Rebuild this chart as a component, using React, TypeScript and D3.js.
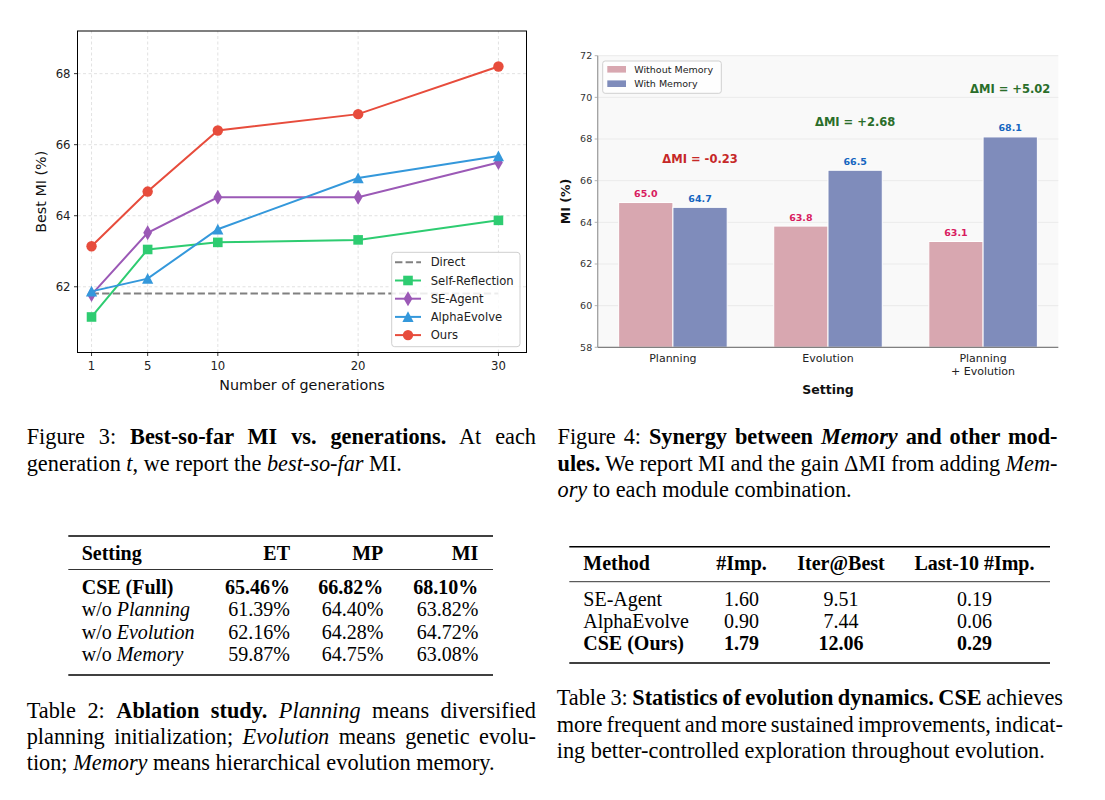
import React, { useLayoutEffect, useRef } from 'react';
import * as d3 from 'd3';

// Figure 3: best-so-far MI per generation
const generations = [1, 5, 10, 20, 30];
const directMI = [61.81, 61.81, 61.81, 61.81, 61.81];
const selfReflectionMI = [61.15, 63.05, 63.25, 63.32, 63.87];
const seAgentMI = [61.78, 63.52, 64.52, 64.52, 65.5];
const alphaEvolveMI = [61.87, 62.23, 63.62, 65.06, 65.68];
const oursMI = [63.14, 64.68, 66.4, 66.86, 68.2];
const lineYTicks = [62, 64, 66, 68];

// Figure 4: memory synergy
const settings = [['Planning'], ['Evolution'], ['Planning', '+ Evolution']];
const withoutMemory = [64.95, 63.82, 63.08];
const withMemory = [64.72, 66.5, 68.1];
const barYTicks = [58, 60, 62, 64, 66, 68, 70, 72];

// Table 2: ablation
const ablationSettings = ['CSE (Full)', 'w/o Planning', 'w/o Evolution', 'w/o Memory'];
const ablationET = [65.46, 61.39, 62.16, 59.87];
const ablationMP = [66.82, 64.4, 64.28, 64.75];
const ablationMI = [68.1, 63.82, 64.72, 63.08];

// Table 3: evolution dynamics
const dynMethods = ['SE-Agent', 'AlphaEvolve', 'CSE (Ours)'];
const dynImp = [1.6, 0.9, 1.79];
const dynIterBest = [9.51, 7.44, 12.06];
const dynLast10 = [0.19, 0.06, 0.29];

const SANS = '"DejaVu Sans", Verdana, sans-serif';
const SERIF = '"Liberation Serif", "Times New Roman", serif';

type Marker = 'square' | 'diamond' | 'triangle' | 'circle' | null;

const markerPath = (m: Marker) => {
  if (m === 'circle') return d3.symbol(d3.symbolCircle, Math.PI * 5.2 * 5.2)() as string;
  if (m === 'square') return d3.symbol(d3.symbolSquare, 9.6 * 9.6)() as string;
  if (m === 'triangle') return 'M0,-5.6L5.6,5.2L-5.6,5.2Z';
  if (m === 'diamond') return 'M0,-7.5L4.4,0L0,7.5L-4.4,0Z';
  return '';
};

const GenerationsChart = () => {
  const x = d3.scaleLinear().domain([0, 32]).range([77.5, 526.5]);
  const y = d3.scaleLinear().domain([60.15, 69.2]).range([352.5, 31]);
  const [xl, xr] = x.range();
  const [yb, yt] = y.range();
  const line = d3
    .line<number>()
    .x((_, i) => x(generations[i]))
    .y((v) => y(v));

  const series: { name: string; values: number[]; color: string; marker: Marker; dashed?: boolean }[] = [
    { name: 'Direct', values: directMI, color: '#808080', marker: null, dashed: true },
    { name: 'Self-Reflection', values: selfReflectionMI, color: '#2ecc71', marker: 'square' },
    { name: 'SE-Agent', values: seAgentMI, color: '#9b59b6', marker: 'diamond' },
    { name: 'AlphaEvolve', values: alphaEvolveMI, color: '#3498db', marker: 'triangle' },
    { name: 'Ours', values: oursMI, color: '#e74c3c', marker: 'circle' },
  ];

  const legendX = 391.7;
  const legendY = 252.3;

  return (
    <g fontFamily={SANS}>
      {/* grid */}
      {generations.map((g) => (
        <line key={'gx' + g} x1={x(g)} x2={x(g)} y1={yb} y2={yt} stroke="#dadada" strokeWidth={0.8} strokeDasharray="3,2.5" />
      ))}
      {lineYTicks.map((t) => (
        <line key={'gy' + t} x1={xl} x2={xr} y1={y(t)} y2={y(t)} stroke="#dadada" strokeWidth={0.8} strokeDasharray="3,2.5" />
      ))}

      {series.map((s) => (
        <g key={s.name}>
          <path
            d={line(s.values) as string}
            fill="none"
            stroke={s.color}
            strokeWidth={2}
            strokeDasharray={s.dashed ? '7.4,3.2' : undefined}
          />
          {s.marker &&
            s.values.map((v, i) => (
              <path key={i} transform={`translate(${x(generations[i])},${y(v)})`} d={markerPath(s.marker)} fill={s.color} />
            ))}
        </g>
      ))}

      <rect x={xl} y={yt} width={xr - xl} height={yb - yt} fill="none" stroke="#000" strokeWidth={1} />

      {/* x axis */}
      {generations.map((g) => (
        <g key={'tx' + g}>
          <line x1={x(g)} x2={x(g)} y1={yb} y2={yb + 3.5} stroke="#000" strokeWidth={0.8} />
          <text x={x(g)} y={yb + 17} textAnchor="middle" fontSize={11.7} fill="#222">
            {g}
          </text>
        </g>
      ))}
      {/* y axis */}
      {lineYTicks.map((t) => (
        <g key={'ty' + t}>
          <line x1={xl - 3.5} x2={xl} y1={y(t)} y2={y(t)} stroke="#000" strokeWidth={0.8} />
          <text x={xl - 7} y={y(t)} dy="0.35em" textAnchor="end" fontSize={11.7} fill="#222">
            {t}
          </text>
        </g>
      ))}
      <text x={302} y={389.5} textAnchor="middle" fontSize={14.3} fill="#111">
        Number of generations
      </text>
      <text transform={`translate(45.5,${(yb + yt) / 2}) rotate(-90)`} textAnchor="middle" fontSize={14.3} fill="#111">
        Best MI (%)
      </text>

      {/* legend */}
      <rect x={legendX} y={legendY} width={128.3} height={94.4} rx={3} fill="#fff" fillOpacity={0.85} stroke="#cfcfcf" strokeWidth={1} />
      {series.map((s, i) => {
        const ry = legendY + 10 + i * 18.2;
        return (
          <g key={'lg' + s.name}>
            <line x1={395} x2={421} y1={ry} y2={ry} stroke={s.color} strokeWidth={2} strokeDasharray={s.dashed ? '7.4,3.2' : undefined} />
            {s.marker && <path transform={`translate(408,${ry})`} d={markerPath(s.marker)} fill={s.color} />}
            <text x={430.7} y={ry} dy="0.35em" fontSize={11.6} fill="#222">
              {s.name}
            </text>
          </g>
        );
      })}
    </g>
  );
};

const MemoryChart = () => {
  const x = d3.scaleLinear().domain([-0.485, 2.485]).range([597.7, 1058.3]);
  const y = d3.scaleLinear().domain([58, 72]).range([347.3, 55.7]);
  const [xl, xr] = x.range();
  const [yb, yt] = y.range();
  const bw = 0.35;
  const colWithout = '#d8a7b0';
  const colWith = '#7f8cbb';
  const fmt1 = (v: number) => (Math.round(v * 10 + 1e-9) / 10).toFixed(1);
  const fmtDelta = (d: number) => (d >= 0 ? '+' : '') + d.toFixed(2);

  return (
    <g fontFamily={SANS}>
      <rect x={xl} y={yt} width={xr - xl} height={yb - yt} fill="#f9f9f9" />
      {barYTicks.map((t) => (
        <line key={'g' + t} x1={xl} x2={xr} y1={y(t)} y2={y(t)} stroke="#ebebeb" strokeWidth={1} />
      ))}

      {settings.map((_, i) => (
        <g key={'b' + i}>
          <rect x={x(i - bw)} y={y(withoutMemory[i])} width={x(bw) - x(0)} height={yb - y(withoutMemory[i])} fill={colWithout} stroke="#fff" strokeWidth={1} />
          <rect x={x(i)} y={y(withMemory[i])} width={x(bw) - x(0)} height={yb - y(withMemory[i])} fill={colWith} stroke="#fff" strokeWidth={1} />
          <text x={x(i - bw / 2)} y={y(withoutMemory[i]) - 5.5} textAnchor="middle" fontSize={9.5} fontWeight="bold" fill="#d81b60">
            {fmt1(withoutMemory[i])}
          </text>
          <text x={x(i + bw / 2)} y={y(withMemory[i]) - 5.5} textAnchor="middle" fontSize={9.5} fontWeight="bold" fill="#1565c0">
            {fmt1(withMemory[i])}
          </text>
          <text
            x={x(i + bw / 2)}
            y={y(withMemory[i] + 2.3)}
            dy="0.35em"
            textAnchor="middle"
            fontSize={11.5}
            fontWeight="bold"
            fill={withMemory[i] - withoutMemory[i] < 0 ? '#c62828' : '#2a6e2a'}
          >
            {`ΔMI = ${fmtDelta(withMemory[i] - withoutMemory[i])}`}
          </text>
        </g>
      ))}

      <line x1={xl} x2={xl} y1={yt} y2={yb} stroke="#a0a0a0" strokeWidth={1.3} />
      <line x1={xl} x2={xr} y1={yb} y2={yb} stroke="#808080" strokeWidth={1.2} />

      {barYTicks.map((t) => (
        <g key={'t' + t}>
          <line x1={xl - 3} x2={xl} y1={y(t)} y2={y(t)} stroke="#a0a0a0" strokeWidth={0.8} />
          <text x={xl - 5.5} y={y(t)} dy="0.35em" textAnchor="end" fontSize={9.5} fill="#333">
            {t}
          </text>
        </g>
      ))}
      {settings.map((lines, i) => (
        <text key={'x' + i} x={x(i)} y={361.5} textAnchor="middle" fontSize={11} fill="#222">
          {lines.map((l, k) => (
            <tspan key={k} x={x(i)} dy={k === 0 ? 0 : 13.2}>
              {l}
            </tspan>
          ))}
        </text>
      ))}
      <text x={x(1)} y={393.8} textAnchor="middle" fontSize={12.5} fontWeight="bold" fill="#111">
        Setting
      </text>
      <text transform={`translate(569.5,${(yb + yt) / 2}) rotate(-90)`} textAnchor="middle" fontSize={12.5} fontWeight="bold" fill="#111">
        MI (%)
      </text>

      {/* legend */}
      <rect x={602.7} y={61} width={118.6} height={32.3} rx={2.5} fill="#fff" fillOpacity={0.85} stroke="#d0d0d0" strokeWidth={1} />
      {[
        ['Without Memory', colWithout],
        ['With Memory', colWith],
      ].map(([label, c], i) => {
        const ry = 69.3 + i * 14.4;
        return (
          <g key={label}>
            <rect x={607.3} y={ry - 3.3} width={18.7} height={6.6} fill={c} />
            <text x={634.3} y={ry} dy="0.35em" fontSize={9.5} fill="#222">
              {label}
            </text>
          </g>
        );
      })}
    </g>
  );
};

type Part = { t: string; b?: boolean; i?: boolean };

// one caption line; justified lines get word-spaced out to the right edge
const CapLine = ({ x, y, end, size, parts }: { x: number; y: number; end?: number; size: number; parts: Part[] }) => {
  const ref = useRef<SVGTextElement>(null);
  useLayoutEffect(() => {
    const el = ref.current;
    if (!el || end === undefined) return;
    el.style.wordSpacing = '0px';
    const natural = el.getComputedTextLength();
    const spaces = parts.map((p) => p.t).join('').split(' ').length - 1;
    if (spaces > 0) el.style.wordSpacing = `${(end - x - natural) / spaces}px`;
  }, []);
  return (
    <text ref={ref} x={x} y={y} fontSize={size} fontFamily={SERIF} fill="#000" style={{ whiteSpace: 'pre' }}>
      {parts.map((p, k) => (
        <tspan key={k} fontWeight={p.b ? 'bold' : 'normal'} fontStyle={p.i ? 'italic' : 'normal'}>
          {p.t}
        </tspan>
      ))}
    </text>
  );
};

const CAP = 22.3;

const Captions = () => (
  <g>
    <CapLine x={26.7} y={444} end={536} size={CAP} parts={[{ t: 'Figure 3: ' }, { t: 'Best-so-far MI vs. generations.', b: true }, { t: ' At each' }]} />
    <CapLine x={26.7} y={470.7} size={CAP} parts={[{ t: 'generation ' }, { t: 't', i: true }, { t: ', we report the ' }, { t: 'best-so-far', i: true }, { t: ' MI.' }]} />

    <CapLine x={557.5} y={444} end={1057.5} size={CAP} parts={[{ t: 'Figure 4: ' }, { t: 'Synergy between ', b: true }, { t: 'Memory', b: true, i: true }, { t: ' and other mod-', b: true }]} />
    <CapLine x={557.5} y={470.7} end={1057.5} size={CAP} parts={[{ t: 'ules.', b: true }, { t: ' We report MI and the gain ΔMI from adding ' }, { t: 'Mem-', i: true }]} />
    <CapLine x={557.5} y={497.4} size={CAP} parts={[{ t: 'ory', i: true }, { t: ' to each module combination.' }]} />

    <CapLine x={26.7} y={718.3} end={536} size={CAP} parts={[{ t: 'Table 2: ' }, { t: 'Ablation study.', b: true }, { t: ' ' }, { t: 'Planning', i: true }, { t: ' means diversified' }]} />
    <CapLine x={26.7} y={744.3} end={536} size={CAP} parts={[{ t: 'planning initialization; ' }, { t: 'Evolution', i: true }, { t: ' means genetic evolu-' }]} />
    <CapLine x={26.7} y={770.3} size={CAP} parts={[{ t: 'tion; ' }, { t: 'Memory', i: true }, { t: ' means hierarchical evolution memory.' }]} />

    <CapLine x={556.7} y={705} end={1063} size={CAP} parts={[{ t: 'Table 3: ' }, { t: 'Statistics of evolution dynamics. CSE', b: true }, { t: ' achieves' }]} />
    <CapLine x={556.7} y={731.7} end={1063} size={CAP} parts={[{ t: 'more frequent and more sustained improvements, indicat-' }]} />
    <CapLine x={556.7} y={758.3} size={CAP} parts={[{ t: 'ing better-controlled exploration throughout evolution.' }]} />
  </g>
);

const AblationTable = () => {
  const rowY = [593.5, 616, 638.5, 661];
  const cols = [290, 383.3, 478.3];
  const pct = (v: number) => `${v.toFixed(2)}%`;
  return (
    <g fontFamily={SERIF} fontSize={20} fill="#000">
      <line x1={68.3} x2={493} y1={536} y2={536} stroke="#000" strokeWidth={1.6} />
      <line x1={68.3} x2={493} y1={569.5} y2={569.5} stroke="#000" strokeWidth={0.8} />
      <line x1={68.3} x2={493} y1={675} y2={675} stroke="#000" strokeWidth={1.6} />
      <text x={81.7} y={560} fontWeight="bold">Setting</text>
      {['ET', 'MP', 'MI'].map((h, k) => (
        <text key={h} x={cols[k]} y={560} textAnchor="end" fontWeight="bold">
          {h}
        </text>
      ))}
      {ablationSettings.map((s, r) => {
        const bold = r === 0;
        const italicPart = s.startsWith('w/o ') ? s.slice(4) : null;
        return (
          <g key={s} fontWeight={bold ? 'bold' : 'normal'}>
            <text x={81.7} y={rowY[r]}>
              {italicPart ? (
                <>
                  <tspan>{'w/o '}</tspan>
                  <tspan fontStyle="italic">{italicPart}</tspan>
                </>
              ) : (
                s
              )}
            </text>
            {[ablationET[r], ablationMP[r], ablationMI[r]].map((v, k) => (
              <text key={k} x={cols[k]} y={rowY[r]} textAnchor="end">
                {pct(v)}
              </text>
            ))}
          </g>
        );
      })}
    </g>
  );
};

const DynamicsTable = () => {
  const rowY = [606, 628, 650];
  const cols = [741.5, 841, 974.5];
  return (
    <g fontFamily={SERIF} fontSize={20} fill="#000">
      <line x1={569.3} x2={1050} y1={546.7} y2={546.7} stroke="#000" strokeWidth={1.6} />
      <line x1={569.3} x2={1050} y1={581.7} y2={581.7} stroke="#000" strokeWidth={0.8} />
      <line x1={569.3} x2={1050} y1={663} y2={663} stroke="#000" strokeWidth={1.6} />
      <text x={583.3} y={570} fontWeight="bold">Method</text>
      {['#Imp.', 'Iter@Best', 'Last-10 #Imp.'].map((h, k) => (
        <text key={h} x={cols[k]} y={570} textAnchor="middle" fontWeight="bold">
          {h}
        </text>
      ))}
      {dynMethods.map((m, r) => (
        <g key={m} fontWeight={r === dynMethods.length - 1 ? 'bold' : 'normal'}>
          <text x={583.3} y={rowY[r]}>{m}</text>
          {[dynImp[r], dynIterBest[r], dynLast10[r]].map((v, k) => (
            <text key={k} x={cols[k]} y={rowY[r]} textAnchor="middle">
              {v.toFixed(2)}
            </text>
          ))}
        </g>
      ))}
    </g>
  );
};

export default function App() {
  return (
    <svg width={1105} height={800} style={{ position: 'absolute', left: 0, top: 0, background: '#fff' }}>
      <rect width={1105} height={800} fill="#fff" />
      <GenerationsChart />
      <MemoryChart />
      <Captions />
      <AblationTable />
      <DynamicsTable />
    </svg>
  );
}
